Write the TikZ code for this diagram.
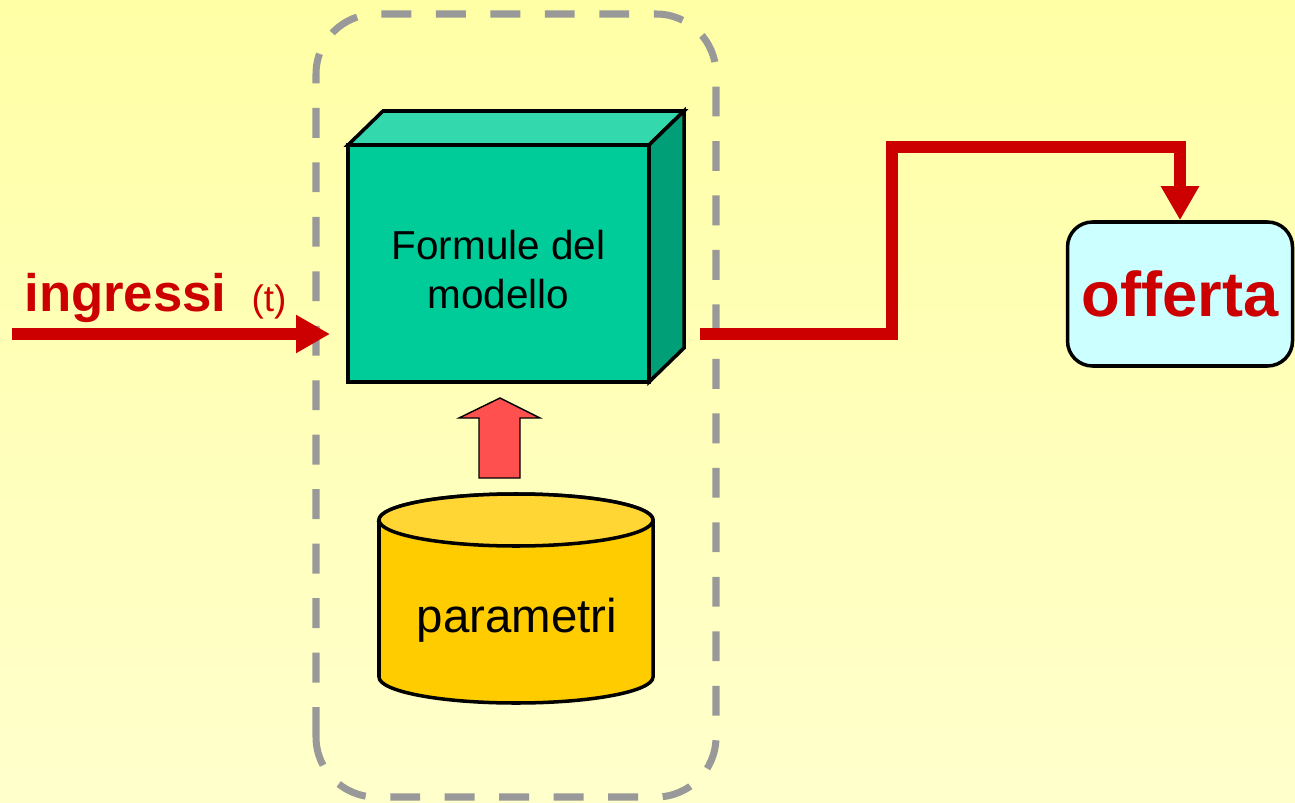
\documentclass[tikz,border=0pt]{standalone}
\usepackage{fontspec}
\setmainfont{Liberation Sans}
\usepackage{xcolor}
\usepackage{tikz}
\usetikzlibrary{arrows.meta,positioning}

\definecolor{rosso}{HTML}{CC0000}
\definecolor{grigio}{HTML}{999999}
\definecolor{verde}{HTML}{00CC99}
\definecolor{verdechiaro}{HTML}{33D9AD}
\definecolor{verdescuro}{HTML}{009F77}
\definecolor{freccia}{HTML}{FF5050}
\definecolor{giallo}{HTML}{FFCC00}
\definecolor{giallochiaro}{HTML}{FFD633}
\definecolor{azzurro}{HTML}{CCFFFF}

\begin{document}
\begin{tikzpicture}[
  flow/.style={draw=rosso, line width=6.8pt, line join=miter,
    -{Triangle[length=0.68cm, width=0.72cm]}},
  cubo/.style={draw, line width=2pt, fill=verde, outer sep=0pt,
    minimum width=6.02cm, minimum height=4.74cm},
  uscita/.style={draw, line width=2pt, fill=azzurro, rounded corners=0.5cm,
    minimum width=4.5cm, minimum height=2.88cm, text=rosso,
    font=\fontsize{36}{40}\selectfont\bfseries}]
\useasboundingbox (0,0) rectangle (25.9,16.04);
\shade[top color=yellow!35!white, bottom color=yellow!20!white] (0,0) rectangle (25.9,16.04);

% modello
\draw[grigio, line width=4pt, dash pattern=on 17pt off 14pt, rounded corners=1.2cm]
  (6.32,0.10) rectangle (14.32,15.76);

\node[cubo] (frm) at (9.97,10.77) {};
\filldraw[fill=verdechiaro, line width=2pt] (frm.north west) -- ++(0.7,0.68) -- ++(6.02,0) -- (frm.north east) -- cycle;
\filldraw[fill=verdescuro, line width=2pt] (frm.north east) -- ++(0.7,0.68) -- ++(0,-4.74) -- (frm.south east) -- cycle;
\node[align=center, font=\fontsize{23}{28}\selectfont] (frmtxt) at ([yshift=-0.12cm]frm.center) {Formule del\\modello};

\filldraw[fill=freccia, line width=0.8pt] (9.58,6.48) -- (9.58,7.68) -- (9.18,7.68) -- (10.0,8.08)
  -- (10.80,7.68) -- (10.40,7.68) -- (10.40,6.48) -- cycle;

% parametri
\filldraw[fill=giallo, line width=2pt] (7.58,5.64) -- (7.58,2.5)
  arc[start angle=180, end angle=360, x radius=2.74, y radius=0.52] -- (13.06,5.64)
  arc[start angle=0, end angle=180, x radius=2.74, y radius=0.52] -- cycle;
\filldraw[fill=giallochiaro, line width=2pt] (10.32,5.64) ellipse [x radius=2.74, y radius=0.52];
\node[anchor=base, font=\fontsize{27}{32}\selectfont] (par) at (10.34,3.4) {parametri};

% ingressi
\coordinate [] (in) at (0.24,9.36);
\coordinate [] (inend) at (6.6,9.36);
\draw[flow] (in) -- (inend);
\node[anchor=base west, text=rosso, inner sep=0pt] (lab) at (0.48,9.8)
  {{\fontsize{30}{36}\selectfont\bfseries ingressi}\hspace{0.5cm}{\fontsize{21}{24}\selectfont (t)}};

% offerta
\node[uscita] (off) at (23.6,10.16) {\raisebox{-5pt}{offerta}};
\coordinate [] (out) at (14.0,9.36);
\coordinate [] (gomito) at (17.84,13.1);
\draw[flow] (out) -| (gomito) -| (off.north);
\end{tikzpicture}
\end{document}
